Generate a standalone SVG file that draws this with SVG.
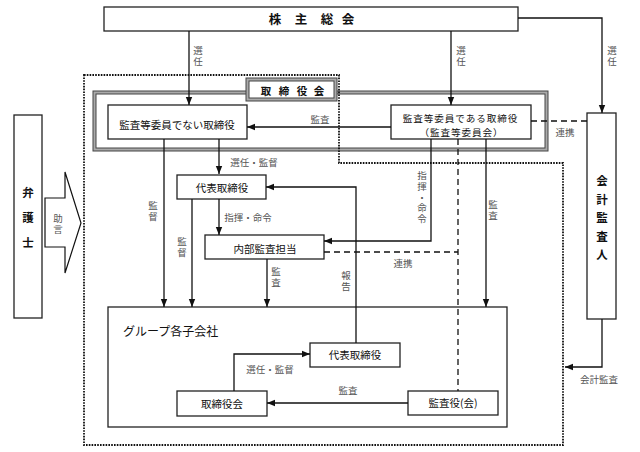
<svg xmlns="http://www.w3.org/2000/svg" width="640" height="452" viewBox="0 0 640 452">
<defs>
<style>
.box{fill:#fff;stroke:#222;stroke-width:1.3}
.t{font-family:"Noto Sans CJK JP","Noto Sans",sans-serif;font-size:10.5px;fill:#111;text-anchor:middle}
.b{font-weight:bold;font-size:11.5px}
.l{font-family:"Noto Sans CJK JP","Noto Sans",sans-serif;font-size:9.5px;fill:#555;text-anchor:middle}
.v{writing-mode:vertical-rl;text-anchor:start;letter-spacing:1.5px}
.c{fill:none;stroke:#111;stroke-width:1.3}
.a{marker-end:url(#ah)}
.d{fill:none;stroke:#111;stroke-width:1.3;stroke-dasharray:6 4}
.dot{fill:none;stroke:#111;stroke-width:1.8;stroke-dasharray:1.6 1.2}
</style>
<marker id="ah" viewBox="0 0 10 10" refX="10" refY="5" markerWidth="8" markerHeight="8" orient="auto" markerUnits="userSpaceOnUse"><path d="M0,1 L10,5 L0,9 z" fill="#111"/></marker>
</defs>
<rect width="640" height="452" fill="#fff"/>

<g id="board">
<rect x="94.5" y="92.5" width="452" height="57" fill="none" stroke="#444" stroke-width="4"/>
<rect x="94.5" y="92.5" width="452" height="57" fill="none" stroke="#aaa" stroke-width="2"/>
<rect x="247.5" y="79.5" width="88" height="20" fill="#fff" stroke="#444" stroke-width="4"/>
<rect x="247.5" y="79.5" width="88" height="20" fill="none" stroke="#aaa" stroke-width="2"/>
<text class="t" x="266 284 302 319" y="95" style="font-size:10.5px;font-weight:bold">取締役会</text>
</g>

<path class="dot" d="M84,75 H339 V163 H563 V445 H84 Z"/>

<g id="shareholders">
<rect class="box" x="104" y="7" width="414" height="24"/>
<text class="t b" x="275 301 327 348" y="24" style="font-size:12.5px">株主総会</text>
</g>

<g id="non-audit-directors">
<rect class="box" x="108" y="105" width="139" height="34"/>
<text class="t" x="177" y="129">監査等委員でない取締役</text>
</g>

<g id="audit-directors">
<rect class="box" x="391" y="105" width="140" height="34"/>
<text class="t" style="font-size:9.6px;letter-spacing:0.9px"><tspan x="460.5" y="121.5">監査等委員である取締役</tspan><tspan x="461.5" y="135.5">（監査等委員会）</tspan></text>
</g>

<g id="auditor">
<rect class="box" x="587" y="113" width="29" height="206"/>
<text class="t b v" x="602" y="175" style="letter-spacing:7px">会計監査人</text>
</g>

<g id="lawyer">
<rect class="box" x="14" y="115" width="28" height="203"/>
<text class="t b v" x="28" y="187" style="letter-spacing:13.5px">弁護士</text>
</g>

<g id="representative">
<rect class="box" x="177" y="175" width="89" height="24"/>
<text class="t" x="222" y="192">代表取締役</text>
</g>

<g id="internal-audit">
<rect class="box" x="205" y="235" width="119" height="24"/>
<text class="t" x="265" y="253">内部監査担当</text>
</g>

<g id="group">
<rect class="box" x="108" y="307" width="399" height="120" style="fill:none"/>
<text class="t" x="123" y="336" style="text-anchor:start;font-size:12px">グループ各子会社</text>
</g>

<g id="sub-representative">
<rect class="box" x="310" y="343" width="90" height="24"/>
<text class="t" x="355" y="359">代表取締役</text>
</g>

<g id="sub-board">
<rect class="box" x="177" y="391" width="90" height="25"/>
<text class="t" x="222" y="408">取締役会</text>
</g>

<g id="sub-auditor">
<rect class="box" x="408" y="391" width="90" height="24"/>
<text class="t" x="453" y="407">監査役(会)</text>
</g>

<g id="lawyer-advice">
<polygon points="45,198 65,198 65,172 81,223 65,273 65,247 45,247" fill="#fff" stroke="#111" stroke-width="1.2"/>
<text class="l v" x="58" y="214">助言</text>
</g>

<g id="connectors">
<path class="c a" d="M189,31 V105"/>
<path class="c a" d="M451,31 V105"/>
<path class="c a" d="M518,18 H602 V113"/>
<path class="c a" d="M391,127 H247"/>
<path class="d" d="M531,121 H587"/>
<path class="c a" d="M164,139 V307"/>
<path class="c a" d="M219,139 V174"/>
<path class="c a" d="M192,199 V307"/>
<path class="c a" d="M219,199 V235"/>
<path class="c a" d="M267,259 V307"/>
<path class="c a" d="M431,139 V241 H324"/>
<path class="d" d="M324,252 H458"/>
<path class="d" d="M458,139 V391"/>
<path class="c a" d="M486,139 V307"/>
<path class="c a" d="M356,343 V187 H266"/>
<path class="c a" d="M234,391 V354 H310"/>
<path class="c a" d="M408,403 H267"/>
<path class="c a" d="M602,319 V367 H565"/>

<text class="l v" x="198" y="46">選任</text>
<text class="l v" x="461" y="46">選任</text>
<text class="l v" x="612" y="46">選任</text>
<text class="l" x="320" y="123">監査</text>
<text class="l" x="565" y="136">連携</text>
<text class="l" x="254" y="166">選任・監督</text>
<text class="l v" x="153" y="201">監督</text>
<text class="l v" x="182" y="237">監督</text>
<text class="l" x="248" y="221">指揮・命令</text>
<text class="l v" x="276" y="267">監査</text>
<text class="l v" x="346" y="271">報告</text>
<text class="l" x="403" y="267">連携</text>
<text class="l v" x="422" y="171" style="letter-spacing:1.2px">指揮・命令</text>
<text class="l v" x="493" y="200">監査</text>
<text class="l" x="270" y="373">選任・監督</text>
<text class="l" x="348" y="394">監査</text>
<text class="l" x="599" y="383">会計監査</text>
</g>
</svg>
